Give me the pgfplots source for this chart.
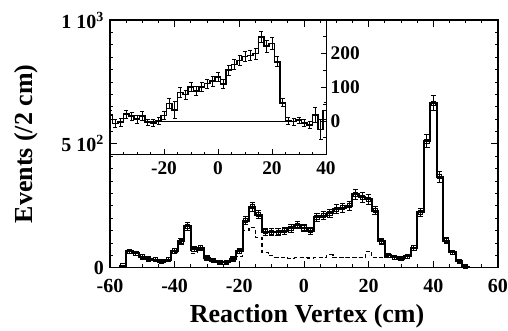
\documentclass[border=0pt]{standalone}
\usepackage{fontspec}
\setmainfont{Liberation Serif}
\usepackage{pgfplots}
\pgfplotsset{compat=1.18}
\usepackage{pgfplotstable}

\pgfplotstableread{
x y
-60 0
-58 0
-56 8
-54 66
-52 58
-50 44
-48 35
-46 33
-44 25
-42 33
-40 68
-38 107
-36 167
-34 75
-32 81
-30 39
-28 28
-26 22
-24 22
-22 35
-20 67
-18 190
-16 246
-14 214
-12 146
-10 143
-8 143
-6 150
-4 159
-2 172
0 161
2 150
4 204
6 210
8 220
10 236
12 242
14 250
16 296
18 284
20 276
22 231
24 107
26 50
28 42
30 36
32 46
34 80
36 224
38 510
40 664
42 367
44 109
46 62
48 26
50 5
52 0
54 0
56 0
58 0
60 0
}\mainhist

\pgfplotstableread{
x y e
-56 8 3
-54 66 9
-52 58 9
-50 44 8
-48 35 7
-46 33 7
-44 25 6
-42 33 7
-40 68 9
-38 107 12
-36 167 15
-34 75 10
-32 81 10
-30 39 7
-28 28 6
-26 22 5
-24 22 5
-22 35 7
-20 67 9
-18 190 16
-16 246 18
-14 214 17
-12 146 14
-10 143 14
-8 143 14
-6 150 14
-4 159 15
-2 172 15
0 161 15
2 150 14
4 204 16
6 210 17
8 220 17
10 236 18
12 242 18
14 250 18
16 296 20
18 284 19
20 276 19
22 231 17
24 107 12
26 50 8
28 42 8
30 36 7
32 46 8
34 80 10
36 224 17
38 510 26
40 664 30
42 367 22
44 109 12
46 62 9
48 26 6
50 5 3
}\mainerr

\pgfplotstableread{
x y
-60 0
-58 0
-56 8
-54 66
-52 58
-50 44
-48 35
-46 33
-44 25
-42 33
-40 62
-38 100
-36 160
-34 58
-32 76
-30 36
-28 26
-26 20
-24 20
-22 30
-20 45
-18 150
-16 163
-14 123
-12 60
-10 48
-8 42
-6 40
-4 38
-2 40
0 40
2 39
4 40
6 41
8 53
10 40
12 41
14 40
16 41
18 41
20 66
22 40
24 40
26 45
28 42
30 36
32 46
34 80
36 224
38 510
40 664
42 367
44 109
46 62
48 26
50 5
52 0
60 0
}\dashhist

\pgfplotstableread{
x y e
-40 18 12
-38 -8 12
-36 -4 12
-34 20 12
-32 14 12
-30 6 12
-28 15 12
-26 -4 10
-24 -6 10
-22 0 10
-20 16 12
-18 52 15
-16 32 25
-14 85 14
-12 78 14
-10 101 14
-8 89 14
-6 101 14
-4 111 14
-2 118 14
0 131 14
2 110 14
4 151 15
6 168 15
8 180 16
10 192 16
12 195 16
14 200 16
16 250 17
18 222 17
20 230 17
22 176 15
24 54 12
26 0 10
28 -2 10
30 2 10
32 -6 10
34 -12 10
36 18 22
38 -25 30
40 31 25
}\insethist

\begin{document}
\begin{tikzpicture}[font=\bfseries]
\begin{axis}[
  at={(0pt,0pt)}, anchor=south west,
  scale only axis, width=291pt, height=185.8pt,
  xmin=-60, xmax=60, ymin=0, ymax=1000,
  xtick={-60,-40,-20,0,20,40,60},
  xticklabels={-60,-40,-20,0,20,40,60},
  minor x tick num=3,
  ytick={0,500,1000},
  yticklabels={0,5 10\textsuperscript{2},1 10\textsuperscript{3}},
  minor y tick num=9,
  tick align=inside,
  major tick length=5pt, minor tick length=2.5pt,
  every tick/.style={black, line width=0.6pt},
  axis line style={line width=1pt},
  tick label style={font=\fontsize{15}{18}\selectfont\bfseries},
  xticklabel style={yshift=-5pt},
  yticklabel style={xshift=-1pt},
  label style={font=\fontsize{19.5}{22}\selectfont\bfseries},
  xlabel={Reaction Vertex (cm)},
  ylabel={Events (/2 cm)},
  xlabel style={at={(axis description cs:0.508,-0.195)}, anchor=center},
  ylabel style={at={(axis description cs:-0.2165,0.5)}, anchor=center},
]
\addplot[const plot mark mid, black, line width=0.9pt, dash pattern=on 3pt off 2pt, no marks] table[x=x,y=y]{\dashhist};
\addplot[const plot mark mid, black, line width=1.5pt, no marks] table[x=x,y=y]{\mainhist};
\addplot[black, only marks, mark=square, mark size=1.6pt, mark options={line width=0.7pt},
  error bars/.cd, y dir=both, y explicit,
  error bar style={line width=0.7pt},
  error mark options={rotate=90, mark size=2pt, line width=0.7pt}]
  table[x=x,y=y,y error=e]{\mainerr};
\end{axis}

\begin{axis}[
  at={(0pt,185.8pt)}, anchor=north west,
  scale only axis, width=162pt, height=100.9pt,
  xmin=-40, xmax=40, ymin=-100, ymax=300,
  xtick={-20,0,20,40}, xticklabels={-20,0,20,40},
  minor xtick={-35,-30,-25,-15,-10,-5,5,10,15,25,30,35},
  ytick={0,100,200}, yticklabels={0,100,200},
  minor ytick={-50,50,150,250},
  xtick pos=left, ytick pos=right,
  xticklabel pos=left, yticklabel pos=right,
  tick align=inside,
  major tick length=4pt, minor tick length=2.2pt,
  every tick/.style={black, line width=0.5pt},
  axis line style={line width=0.7pt},
  tick label style={font=\fontsize{14.5}{17}\selectfont\bfseries},
  xticklabel style={yshift=-1.5pt},
]
\addplot[black, line width=0.5pt, no marks] coordinates {(-25,0) (25,0)};
\addplot[const plot mark mid, black, line width=1.2pt, no marks] table[x=x,y=y]{\insethist};
\addplot[black, only marks, mark=*, mark size=0pt,
  error bars/.cd, y dir=both, y explicit,
  error bar style={line width=0.5pt},
  error mark options={rotate=90, mark size=1.5pt, line width=0.5pt}]
  table[x=x,y=y,y error=e]{\insethist};
\end{axis}
\pgfresetboundingbox
\path[use as bounding box] (-82.5pt,-46.7pt) rectangle (298.5pt,200.8pt);
\end{tikzpicture}
\end{document}
